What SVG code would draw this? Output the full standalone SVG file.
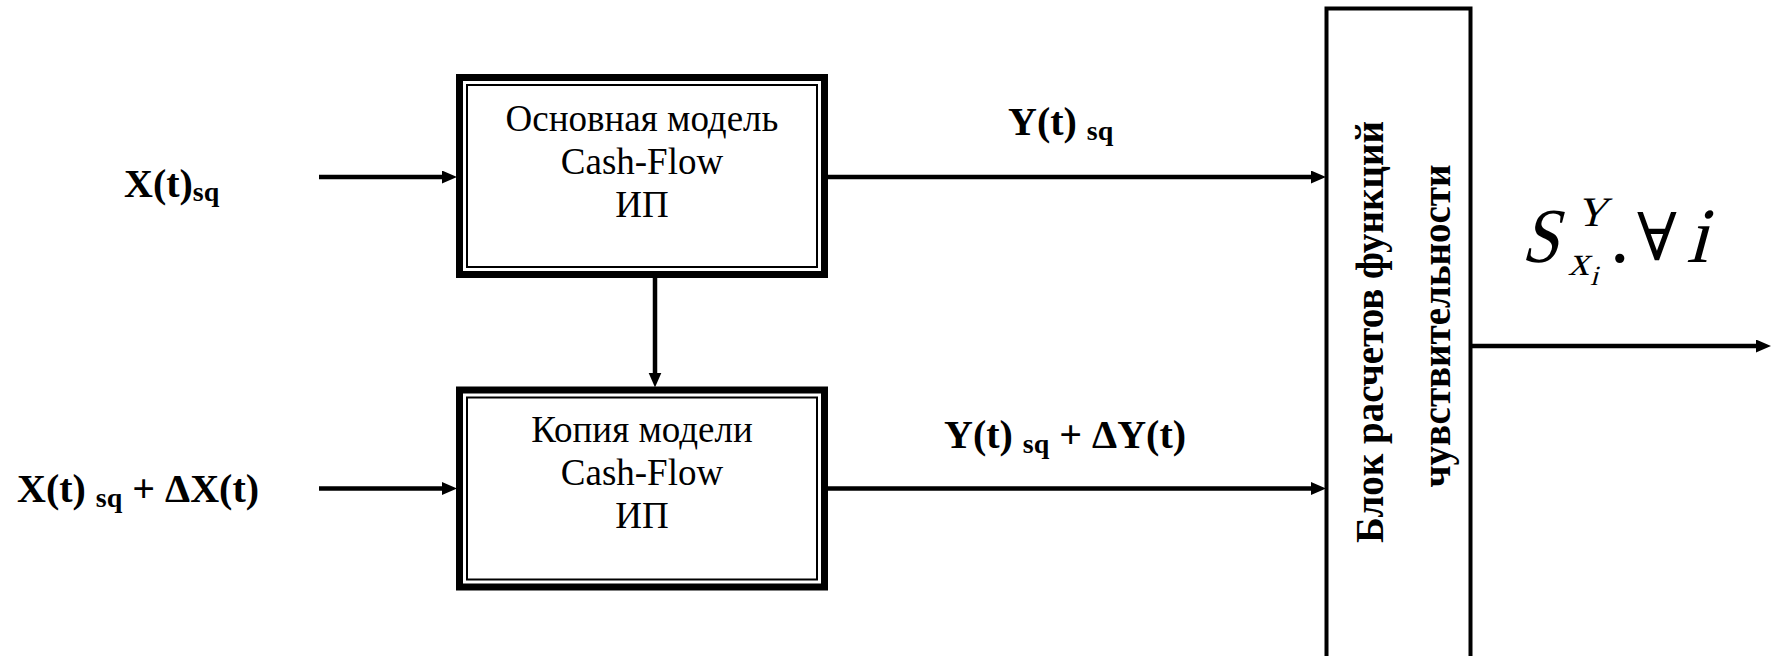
<svg xmlns="http://www.w3.org/2000/svg" width="1771" height="656" viewBox="0 0 1771 656">
<defs>
<marker id="ah" markerUnits="userSpaceOnUse" markerWidth="16" markerHeight="14" refX="7" refY="6.5" orient="auto">
<path d="M0,0 L15,6.5 L0,13 Z" fill="#000"/>
</marker>
<style>
.box-o{fill:#fff;stroke:#000;stroke-width:7}
.box-i{fill:none;stroke:#000;stroke-width:2}
.blk{fill:#fff;stroke:#000;stroke-width:4}
.conn{fill:none;stroke:#000;stroke-width:4.5;marker-end:url(#ah)}
.bt{font-family:"Liberation Serif","Times New Roman",serif;font-size:37px;fill:#000;text-anchor:middle}
.lb{font-family:"Liberation Serif","Times New Roman",serif;font-size:40px;font-weight:bold;fill:#000}
.sub{font-size:28px}
.rt{font-family:"Liberation Serif","Times New Roman",serif;font-size:39px;font-weight:bold;fill:#000;text-anchor:middle}
.m{font-family:"Liberation Serif","Times New Roman","DejaVu Serif",serif;fill:#000}
</style>
</defs>
<rect width="1771" height="656" fill="#fff"/>
<g id="connectors">
<path class="conn" d="M319,177 H449"/>
<path class="conn" d="M319,488.5 H449"/>
<path class="conn" d="M828,177 H1318"/>
<path class="conn" d="M828,488.5 H1318"/>
<path class="conn" d="M655,278 V379.5"/>
<path class="conn" d="M1471,346 H1763"/>
</g>
<g id="main-model">
<rect class="box-o" x="459.5" y="77.5" width="365" height="197"/>
<rect class="box-i" x="467" y="85" width="350" height="182"/>
<text class="bt" x="642" y="131">Основная модель</text>
<text class="bt" x="642" y="174">Cash-Flow</text>
<text class="bt" x="642" y="217">ИП</text>
</g>
<g id="copy-model">
<rect class="box-o" x="459.5" y="390" width="365" height="197"/>
<rect class="box-i" x="467" y="397.5" width="350" height="182"/>
<text class="bt" x="642" y="442">Копия модели</text>
<text class="bt" x="642" y="485">Cash-Flow</text>
<text class="bt" x="642" y="528">ИП</text>
</g>
<g id="sensitivity-block">
<rect class="blk" x="1326.5" y="8.5" width="144" height="700"/>
<text class="rt" transform="translate(1383,332) rotate(-90)">Блок расчетов функций</text>
<text class="rt" transform="translate(1450,326) rotate(-90)">чувствительности</text>
</g>
<g id="labels">
<text class="lb" x="124" y="197">X(t)<tspan class="sub" dy="4">sq</tspan></text>
<text class="lb" x="17" y="502">X(t) <tspan class="sub" dy="5">sq</tspan><tspan dy="-5"> + ΔX(t)</tspan></text>
<text class="lb" x="1008" y="135">Y(t) <tspan class="sub" dy="5">sq</tspan></text>
<text class="lb" x="944" y="448">Y(t) <tspan class="sub" dy="5">sq</tspan><tspan dy="-5"> + ΔY(t)</tspan></text>
</g>
<g id="output-label">
<text class="m" transform="translate(1521,262) skewX(-15) scale(0.85,1)" font-size="78">S</text>
<text class="m" transform="translate(1576,226) skewX(-15)" font-size="42">Y</text>
<text class="m" transform="translate(1568,275) skewX(-15)" font-size="42">x</text>
<text class="m" transform="translate(1590,285) skewX(-15)" font-size="28">i</text>
<text class="m" x="1610" y="262" font-size="78">.</text>
<text class="m" x="1637" y="260" font-size="66">∀</text>
<text class="m" transform="translate(1686,262) skewX(-15)" font-size="78">i</text>
</g>
</svg>
